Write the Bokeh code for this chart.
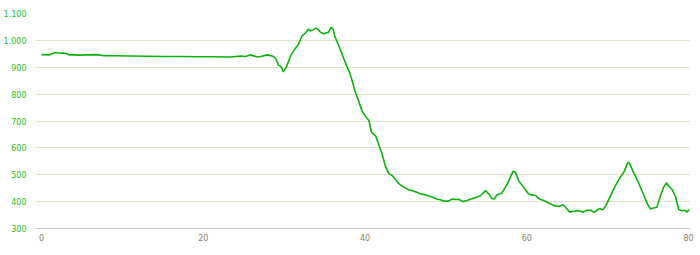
from bokeh.plotting import figure
from bokeh.models import Range1d, FixedTicker, ColumnDataSource
from bokeh.embed import file_html
from bokeh.resources import INLINE

km = [0.0, 0.1, 0.9, 1.7, 2.2, 2.7, 3.1, 3.5, 4.0, 4.5, 5.5, 6.9, 7.7, 9.0, 11.0, 13.0, 15.1, 17.0, 19.3, 21.0,
      23.4, 24.6, 25.2, 25.8, 26.7, 27.1, 27.9, 28.1, 28.7, 29.0, 29.3, 29.6, 29.9, 30.3, 30.8, 31.2, 31.8,
      32.2, 32.6, 33.0, 33.25, 33.6, 34.0, 34.5, 34.9, 35.5, 35.8, 36.05, 36.3, 36.75, 37.3, 37.7, 38.1,
      38.4, 38.8, 39.2, 39.6, 40.0, 40.5, 40.8, 41.3, 41.8, 42.1, 42.5, 42.9, 43.35, 43.8, 44.2, 44.8,
      45.4, 45.8, 46.4, 46.8, 47.5, 48.1, 48.5, 48.9, 49.3, 49.7, 50.3, 50.8, 51.2, 51.6, 52.1, 52.6,
      53.0, 53.6, 54.3, 54.9, 55.3, 55.7, 56.0, 56.3, 56.9, 57.6, 58.3, 58.6, 59.0, 59.6, 60.2, 60.4,
      61.1, 61.5, 62.1, 62.7, 63.3, 63.9, 64.5, 64.8, 65.3, 65.8, 66.4, 67.0, 67.4, 67.9, 68.3, 68.7,
      69.0, 69.4, 69.8, 70.3, 70.9, 71.6, 72.0, 72.5, 72.7, 73.2, 73.8, 74.5, 74.9, 75.3, 75.7, 76.1,
      76.5, 76.9, 77.3, 77.5, 78.0, 78.4, 78.8, 79.2, 79.6, 79.8, 80.1]
elev = [947, 947, 946, 955, 952, 953, 950, 946, 947, 945, 946, 947, 943, 943, 942, 941, 940, 940, 939, 939,
        938, 942, 940, 946, 938, 940, 946, 945, 940, 930, 908, 903, 883, 903, 943, 962, 987,
        1017, 1026, 1042, 1035, 1040, 1046, 1030, 1025, 1030, 1048, 1042, 1012, 981, 938, 907, 880,
        851, 807, 776, 739, 720, 701, 658, 646, 603, 578, 534, 506, 497, 481, 466, 454,
        444, 441, 435, 429, 425, 419, 414, 410, 407, 402, 402, 410, 408, 409, 400, 404,
        409, 414, 423, 441, 429, 411, 410, 425, 431, 466, 513, 509, 478, 454, 429, 426,
        423, 411, 404, 395, 386, 382, 388, 379, 361, 364, 366, 361, 368, 368, 360, 368,
        374, 370, 386, 418, 456, 493, 509, 546, 543, 509, 472, 423, 392, 373, 376, 379,
        418, 452, 470, 460, 444, 418, 371, 366, 368, 361, 371]

x_ticks = [0, 20, 40, 60, 80]
y_ticks = [300, 400, 500, 600, 700, 800, 900, 1000, 1100]
y_labels = {300: "300", 400: "400", 500: "500", 600: "600", 700: "700", 800: "800",
            900: "900", 1000: "1.000", 1100: "1.100"}

p = figure(width=700, height=255, output_backend="svg", toolbar_location=None,
           x_range=Range1d(-0.75, 80.25), y_range=Range1d(300, 1100),
           min_border_left=35, min_border_right=10, min_border_top=13, min_border_bottom=27)
p.outline_line_color = None
p.background_fill_color = "white"
p.border_fill_color = "white"

src = ColumnDataSource(dict(km=km, elev=elev))
p.line("km", "elev", source=src, line_color="#0cb30c", line_width=1.6)

p.xgrid.visible = False
p.ygrid.ticker = FixedTicker(ticks=y_ticks)
p.ygrid.grid_line_color = "#e6e2c9"
p.ygrid.grid_line_width = 1

p.xaxis.ticker = FixedTicker(ticks=x_ticks)
p.xaxis.axis_line_color = "#cccccc"
p.xaxis.major_tick_line_color = None
p.xaxis.minor_tick_line_color = None
p.xaxis.major_tick_out = 0
p.xaxis.major_tick_in = 0
p.xaxis.minor_tick_out = 0
p.xaxis.major_label_text_color = "#8a7f6a"
p.xaxis.major_label_text_font = "DejaVu Sans"
p.xaxis.major_label_text_font_size = "8px"
p.xaxis.major_label_standoff = 5

p.yaxis.ticker = FixedTicker(ticks=y_ticks)
p.yaxis.major_label_overrides = y_labels
p.yaxis.axis_line_color = None
p.yaxis.major_tick_line_color = None
p.yaxis.minor_tick_line_color = None
p.yaxis.major_tick_out = 0
p.yaxis.major_tick_in = 0
p.yaxis.minor_tick_out = 0
p.yaxis.major_label_text_color = "#1ec01e"
p.yaxis.major_label_text_font = "DejaVu Sans"
p.yaxis.major_label_text_font_size = "8px"
p.yaxis.major_label_standoff = 9

open("out.html", "w").write(file_html(p, INLINE))
